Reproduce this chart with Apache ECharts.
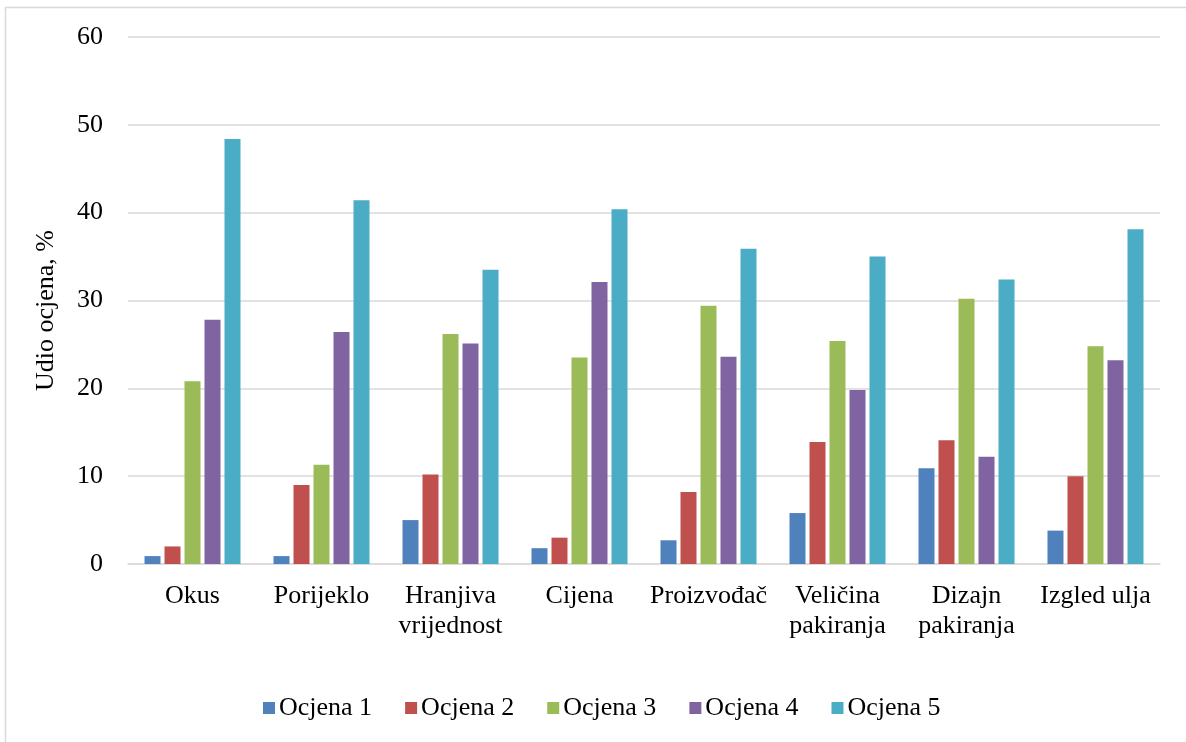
<!DOCTYPE html>
<html>
<head>
<meta charset="utf-8">
<script src="https://cdn.jsdelivr.net/npm/echarts@6/dist/echarts.min.js"></script>
<style>
html,body{margin:0;padding:0;background:#fff;}
#chart{width:1186px;height:742px;}
</style>
</head>
<body>
<div id="chart"></div>
<script>
const categories = ['Okus', 'Porijeklo', 'Hranjiva\nvrijednost', 'Cijena', 'Proizvođač', 'Veličina\npakiranja', 'Dizajn\npakiranja', 'Izgled ulja'];
const seriesNames = ['Ocjena 1', 'Ocjena 2', 'Ocjena 3', 'Ocjena 4', 'Ocjena 5'];
const ocjena1 = [0.9, 0.9, 5.0, 1.8, 2.7, 5.8, 10.9, 3.8];
const ocjena2 = [2.0, 9.0, 10.2, 3.0, 8.2, 13.9, 14.1, 10.0];
const ocjena3 = [20.8, 11.3, 26.2, 23.5, 29.4, 25.4, 30.2, 24.8];
const ocjena4 = [27.8, 26.4, 25.1, 32.1, 23.6, 19.8, 12.2, 23.2];
const ocjena5 = [48.4, 41.4, 33.5, 40.4, 35.9, 35.0, 32.4, 38.1];
const yTicks = { min: 0, max: 60, interval: 10 };
const axisTitle = 'Udio ocjena, %';

const colors = ['#4F81BD', '#C0504D', '#9BBB59', '#8064A2', '#4BACC6'];
const allData = [ocjena1, ocjena2, ocjena3, ocjena4, ocjena5];
const font = 'Liberation Serif';

const chart = echarts.init(document.getElementById('chart'), null, { renderer: 'canvas' });
chart.setOption({
  animation: false,
  backgroundColor: '#ffffff',
  color: colors,
  textStyle: { fontFamily: font, color: '#000' },
  graphic: [{
    type: 'rect',
    shape: { x: 5.5, y: 7.5, width: 1300, height: 900 },
    style: { fill: 'none', stroke: '#D9D9D9', lineWidth: 1.5 },
    silent: true, z: -10
  }],
  grid: { left: 128, right: 26, top: 37, bottom: 178, containLabel: false },
  legend: {
    data: seriesNames,
    left: 258, top: 690,
    itemWidth: 12, itemHeight: 12, itemGap: 33,
    icon: 'rect',
    textStyle: { fontFamily: font, fontSize: 26, color: '#000', padding: [0, 0, 0, -1] }
  },
  xAxis: {
    type: 'category',
    data: categories,
    axisLine: { show: true, lineStyle: { color: '#D9D9D9', width: 1.5 } },
    axisTick: { show: false },
    axisLabel: { fontFamily: font, fontSize: 26, color: '#000', lineHeight: 30, margin: 17, interval: 0 }
  },
  yAxis: {
    type: 'value',
    min: yTicks.min, max: yTicks.max, interval: yTicks.interval,
    name: axisTitle,
    nameLocation: 'middle',
    nameGap: 69,
    nameTextStyle: { fontFamily: font, fontSize: 26, color: '#000', padding: [0, 20, 0, 0] },
    axisLine: { show: false },
    axisTick: { show: false },
    axisLabel: { fontFamily: font, fontSize: 26, color: '#000', margin: 25 },
    splitLine: { lineStyle: { color: '#D9D9D9', width: 1.5 } }
  },
  series: seriesNames.map((n, i) => ({
    name: n,
    type: 'bar',
    data: allData[i],
    barWidth: 16,
    barGap: '25%',
    itemStyle: { color: colors[i] }
  }))
});
</script>
</body>
</html>
